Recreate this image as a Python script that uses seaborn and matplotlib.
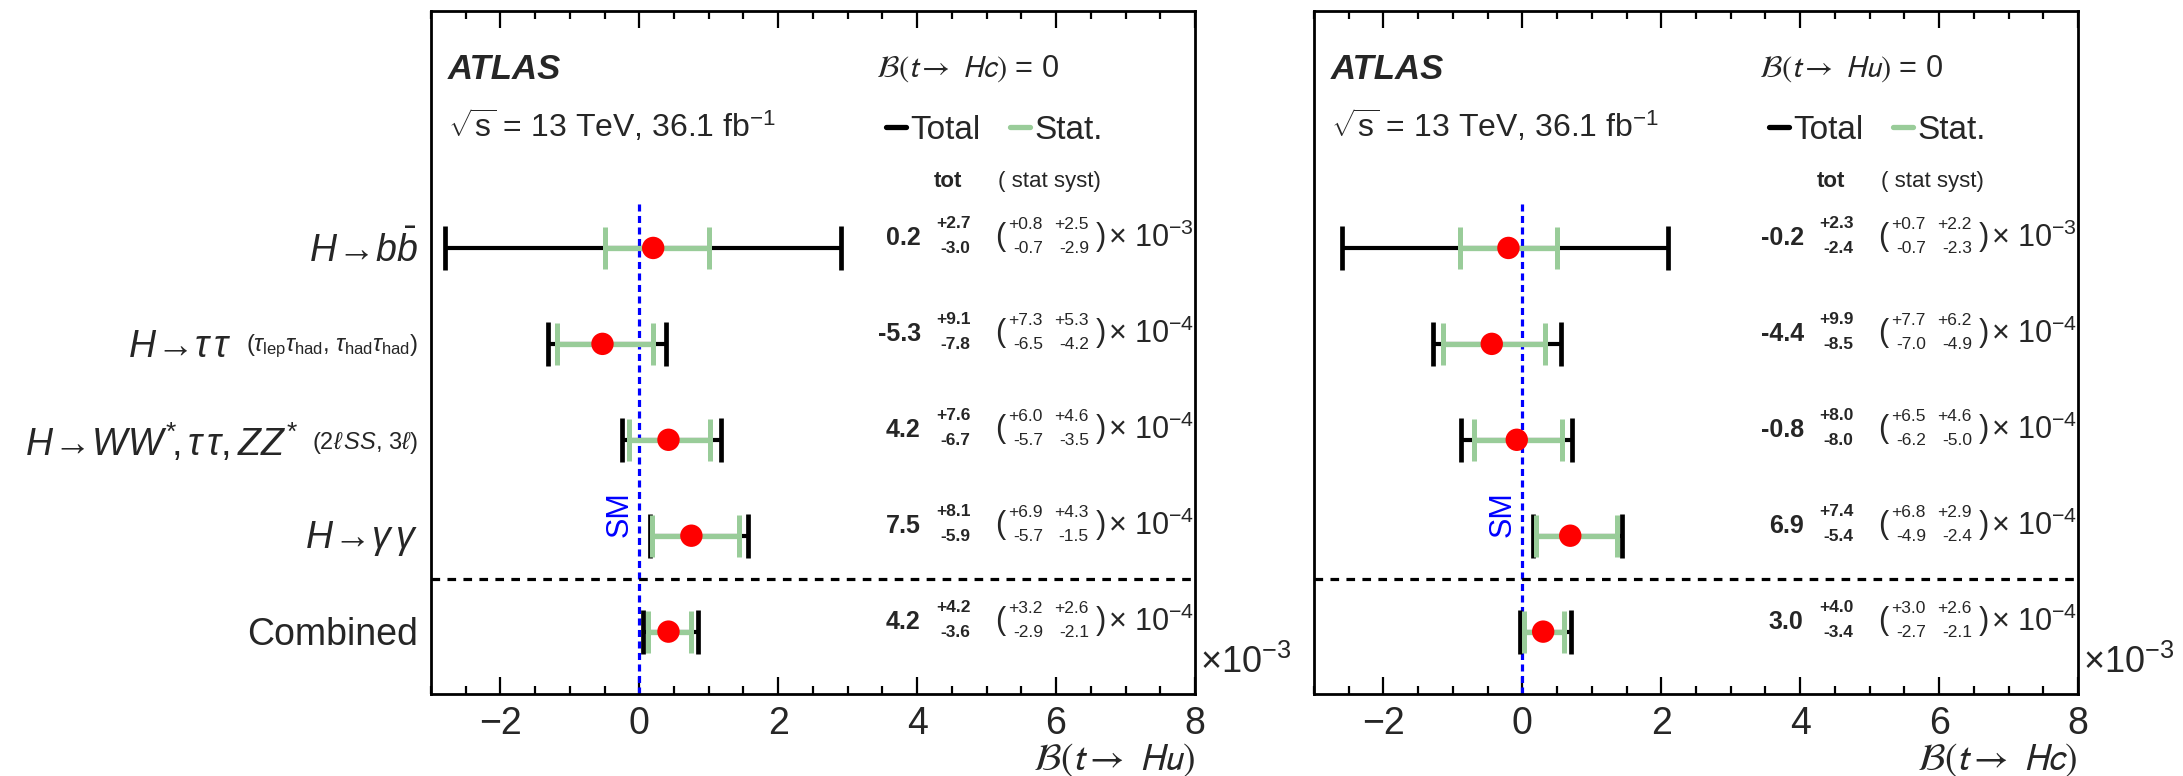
import matplotlib
matplotlib.use("Agg")
import matplotlib.pyplot as plt
import seaborn as sns
import pandas as pd
import numpy as np
from matplotlib.lines import Line2D
from matplotlib.ticker import MultipleLocator
from matplotlib.transforms import blended_transform_factory

# ---------------- data ----------------
categories = ["bb", "tautau", "multilepton", "gammagamma", "combined"]
label_main = [r"$H\!\rightarrow\! b\bar{b}$", r"$H\!\rightarrow\!\tau\,\tau$",
              r"$H\!\rightarrow\! WW^{*}\!,\tau\,\tau,ZZ^{*}$", r"$H\!\rightarrow\!\gamma\,\gamma$", "Combined"]
label_sub = ["", r"($\tau_{\mathrm{lep}}\tau_{\mathrm{had}}$, $\tau_{\mathrm{had}}\tau_{\mathrm{had}}$)",
             r"(2$\ell\,SS$, 3$\ell$)", "", ""]
exponents = [-3, -4, -4, -4, -4]

# t -> Hu  (left panel)
hu_central = [0.2, -5.3, 4.2, 7.5, 4.2]
hu_tot_up = [2.7, 9.1, 7.6, 8.1, 4.2]
hu_tot_dn = [3.0, 7.8, 6.7, 5.9, 3.6]
hu_stat_up = [0.8, 7.3, 6.0, 6.9, 3.2]
hu_stat_dn = [0.7, 6.5, 5.7, 5.7, 2.9]
hu_syst_up = [2.5, 5.3, 4.6, 4.3, 2.6]
hu_syst_dn = [2.9, 4.2, 3.5, 1.5, 2.1]

# t -> Hc  (right panel)
hc_central = [-0.2, -4.4, -0.8, 6.9, 3.0]
hc_tot_up = [2.3, 9.9, 8.0, 7.4, 4.0]
hc_tot_dn = [2.4, 8.5, 8.0, 5.4, 3.4]
hc_stat_up = [0.7, 7.7, 6.5, 6.8, 3.0]
hc_stat_dn = [0.7, 7.0, 6.2, 4.9, 2.7]
hc_syst_up = [2.2, 6.2, 4.6, 2.9, 2.6]
hc_syst_dn = [2.3, 4.9, 5.0, 2.4, 2.1]

sm_value = 0.0
x_ticks = [-2, 0, 2, 4, 6, 8]

# ---------------- style ----------------
sns.set_theme(style="ticks")
plt.rcParams["font.family"] = ["Liberation Sans", "DejaVu Sans"]
plt.rcParams["mathtext.fontset"] = "custom"
plt.rcParams["mathtext.rm"] = "Liberation Sans"
plt.rcParams["mathtext.it"] = "Liberation Sans:italic"
plt.rcParams["mathtext.bf"] = "Liberation Sans:bold"
plt.rcParams["axes.unicode_minus"] = True

GREEN = "#99cc99"
fig = plt.figure(figsize=(21.83, 7.76), dpi=100)
ax1 = fig.add_axes([0.1974, 0.1057, 0.350, 0.8801])
ax2 = fig.add_axes([0.6019, 0.1057, 0.350, 0.8801])

n = len(categories)
ypos = np.arange(n)[::-1].astype(float)  # bb on top, combined at bottom
Y_LO, Y_HI = -0.65, 6.47


def draw_panel(ax, central, tot_up, tot_dn, stat_up, stat_dn, syst_up, syst_dn,
               other_label, xlabel):
    scale = np.array([10.0 ** (e + 3) for e in exponents])
    df = pd.DataFrame({
        "cat": categories,
        "y": ypos,
        "x": np.array(central) * scale,
        "tup": np.array(tot_up) * scale,
        "tdn": np.array(tot_dn) * scale,
        "sup": np.array(stat_up) * scale,
        "sdn": np.array(stat_dn) * scale,
    })
    # SM reference line
    ax.vlines(sm_value, Y_LO, ypos.max() + 0.5, color="blue", lw=2.3,
              linestyles=[(0, (2.2, 1.4))], zorder=2)
    ax.axhline(0.55, color="black", lw=2.3, ls=(0, (2.7, 2.3)), zorder=2)
    ax.errorbar(df["x"], df["y"], xerr=[df["tdn"], df["tup"]], fmt="none",
                ecolor="black", elinewidth=3.0, capsize=16, capthick=3.4, zorder=3)
    ax.errorbar(df["x"], df["y"], xerr=[df["sdn"], df["sup"]], fmt="none",
                ecolor=GREEN, elinewidth=3.8, capsize=15, capthick=3.6, zorder=4)
    sns.scatterplot(data=df, x="x", y="y", color="red", s=260, edgecolor="none",
                    zorder=5, ax=ax, legend=False)

    ax.set_xlim(-3, 8)
    ax.set_ylim(Y_LO, Y_HI)
    ax.set_yticks([])
    ax.set_ylabel("")
    ax.set_xticks(x_ticks)
    ax.xaxis.set_minor_locator(MultipleLocator(0.5))
    ax.tick_params(axis="x", which="both", direction="in", top=True, bottom=True,
                   width=1.6, color="black", labelsize=27, pad=9)
    ax.tick_params(axis="x", which="major", length=12)
    ax.tick_params(axis="x", which="minor", length=6)
    for sp in ax.spines.values():
        sp.set_linewidth(2.0)
        sp.set_color("black")
    ax.set_xlabel(xlabel, loc="right", fontsize=27, labelpad=-1,
                  math_fontfamily="stixsans")
    ax.text(1.0065, 0.045, r"$\times$10$^{-3}$", transform=ax.transAxes,
            fontsize=26, ha="left", va="center")

    # SM label
    ax.text(sm_value - 0.28, 1.22, "SM", rotation=90, color="blue", fontsize=22,
            ha="center", va="center")

    # header texts
    ax.text(0.022, 0.915, "ATLAS", transform=ax.transAxes, fontsize=25,
            fontweight="bold", fontstyle="italic", va="center", ha="left")
    ax.text(0.022, 0.833, r"$\sqrt{\mathrm{s}}$ = 13 TeV, 36.1 fb$^{-1}$",
            transform=ax.transAxes, fontsize=23, va="center", ha="left")
    ax.text(0.583, 0.915, other_label, transform=ax.transAxes, fontsize=22,
            va="center", ha="left", math_fontfamily="stixsans")
    handles = [Line2D([], [], color="black", lw=3.8), Line2D([], [], color=GREEN, lw=3.8)]
    ax.legend(handles=handles, labels=["Total", "Stat."], ncol=2, frameon=False,
              fontsize=24, handlelength=0.6, handletextpad=0.12, columnspacing=0.9,
              loc="center left", bbox_to_anchor=(0.578, 0.825), borderaxespad=0)

    tr = blended_transform_factory(ax.transAxes, ax.transData)
    ax.text(0.677, 4.69, "tot", transform=tr, fontsize=16, fontweight="bold",
            ha="center", va="center")
    ax.text(0.81, 4.69, "( stat syst)", transform=tr, fontsize=16,
            ha="center", va="center")
    for i in range(n):
        y = ypos[i]
        ax.text(0.641, y + 0.10, f"{central[i]:.1f}", transform=tr, fontsize=18,
                fontweight="bold", ha="right", va="center")
        ax.text(0.706, y + 0.25, f"+{tot_up[i]:.1f}", transform=tr, fontsize=12.5,
                fontweight="bold", ha="right", va="center")
        ax.text(0.706, y - 0.01, f"-{tot_dn[i]:.1f}", transform=tr, fontsize=12.5,
                fontweight="bold", ha="right", va="center")
        ax.text(0.739, y + 0.11, "(", transform=tr, fontsize=22, ha="left", va="center")
        ax.text(0.801, y + 0.24, f"+{stat_up[i]:.1f}", transform=tr, fontsize=12.5,
                ha="right", va="center")
        ax.text(0.801, y - 0.01, f"-{stat_dn[i]:.1f}", transform=tr, fontsize=12.5,
                ha="right", va="center")
        ax.text(0.861, y + 0.24, f"+{syst_up[i]:.1f}", transform=tr, fontsize=12.5,
                ha="right", va="center")
        ax.text(0.861, y - 0.01, f"-{syst_dn[i]:.1f}", transform=tr, fontsize=12.5,
                ha="right", va="center")
        ax.text(0.870, y + 0.11, ")", transform=tr, fontsize=22, ha="left", va="center")
        ax.text(0.886, y + 0.10, r"$\times$ 10$^{%d}$" % exponents[i], transform=tr,
                fontsize=22, ha="left", va="center")


draw_panel(ax1, hu_central, hu_tot_up, hu_tot_dn, hu_stat_up, hu_stat_dn,
           hu_syst_up, hu_syst_dn, r"$\mathcal{B}(t\rightarrow\ Hc)$ = 0",
           r"$\mathcal{B}(t\rightarrow\ Hu)$")
draw_panel(ax2, hc_central, hc_tot_up, hc_tot_dn, hc_stat_up, hc_stat_dn,
           hc_syst_up, hc_syst_dn, r"$\mathcal{B}(t\rightarrow\ Hu)$ = 0",
           r"$\mathcal{B}(t\rightarrow\ Hc)$")

# row labels on the left panel
tr1 = blended_transform_factory(ax1.transAxes, ax1.transData)
for i in range(n):
    y = ypos[i] - 0.03
    if label_sub[i]:
        sub = ax1.text(-0.017, y, label_sub[i], transform=tr1, fontsize=17,
                       ha="right", va="center")
        ax1.annotate(label_main[i], xy=(0, 0.5), xycoords=sub, xytext=(-10, 0),
                     textcoords="offset points", fontsize=27, ha="right", va="center")
    else:
        ax1.text(-0.017, y, label_main[i], transform=tr1, fontsize=27,
                 ha="right", va="center")

fig.savefig("out.png", dpi=100)
